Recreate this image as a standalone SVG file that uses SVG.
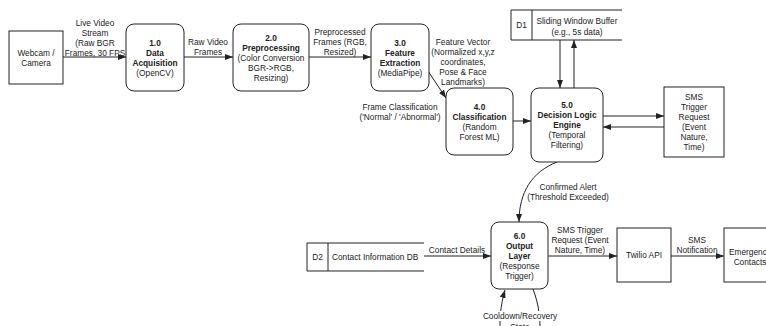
<svg xmlns="http://www.w3.org/2000/svg" width="766" height="326" viewBox="0 0 766 326">
<style>
.t{font-family:"Liberation Sans",Arial,sans-serif;font-size:8.3px;fill:#222;text-anchor:middle}
.s{text-anchor:start}
.b{font-weight:bold}
.box{fill:#fff;stroke:#222;stroke-width:1}
.ln{fill:none;stroke:#222;stroke-width:1}
.ar{fill:none;stroke:#222;stroke-width:1;marker-end:url(#ah)}
</style>
<defs>
<marker id="ah" markerWidth="8" markerHeight="6" refX="8" refY="3" orient="auto" markerUnits="userSpaceOnUse">
<path d="M0,0 L8,3 L0,6 z" fill="#222"/>
</marker>
</defs>
<rect width="766" height="326" fill="#fff"/>
<g id="connectors">
<line class="ar" x1="63" y1="57" x2="126" y2="57"/>
<line class="ar" x1="184" y1="57" x2="233" y2="57"/>
<line class="ar" x1="309" y1="57" x2="371" y2="57"/>
<line class="ar" x1="422" y1="62" x2="446" y2="98"/>
<line class="ar" x1="513" y1="121" x2="531" y2="121"/>
<line class="ar" x1="560" y1="40" x2="560" y2="88"/>
<line class="ar" x1="574" y1="88" x2="574" y2="40"/>
<line class="ar" x1="603" y1="116" x2="664" y2="116"/>
<line class="ar" x1="664" y1="127" x2="603" y2="127"/>
<path class="ar" d="M557 162 C532 172 519 192 519 222"/>
<line class="ar" x1="424" y1="256" x2="491" y2="256"/>
<line class="ar" x1="548" y1="256" x2="617" y2="256"/>
<line class="ar" x1="671" y1="256" x2="724" y2="256"/>
<path class="ar" d="M533 289 C545 320 542 360 520 360 C498 360 496 320 505 290"/>
</g>
<g id="labels">
<text class="t" x="95" y="26">Live Video</text>
<text class="t" x="95" y="36">Stream</text>
<text class="t" x="95" y="46">(Raw BGR</text>
<text class="t" x="95" y="56">Frames, 30 FPS</text>
<text class="t" x="208" y="45">Raw Video</text>
<text class="t" x="208" y="55">Frames</text>
<text class="t" x="340" y="35">Preprocessed</text>
<text class="t" x="340" y="45">Frames (RGB,</text>
<text class="t" x="340" y="55">Resized)</text>
<text class="t" x="463" y="45">Feature Vector</text>
<text class="t" x="463" y="55">(Normalized x,y,z</text>
<text class="t" x="463" y="65">coordinates,</text>
<text class="t" x="463" y="75">Pose &amp; Face</text>
<text class="t" x="463" y="85">Landmarks)</text>
<text class="t" x="400" y="110">Frame Classification</text>
<text class="t" x="400" y="120">('Normal' / 'Abnormal')</text>
<text class="t" x="568" y="190">Confirmed Alert</text>
<text class="t" x="568" y="200">(Threshold Exceeded)</text>
<text class="t" x="457" y="253">Contact Details</text>
<text class="t" x="580" y="233">SMS Trigger</text>
<text class="t" x="580" y="243">Request (Event</text>
<text class="t" x="580" y="253">Nature, Time)</text>
<text class="t" x="697" y="243">SMS</text>
<text class="t" x="697" y="253">Notification</text>
<rect x="482" y="311" width="76" height="10" fill="#fff"/>
<text class="t" x="520" y="319">Cooldown/Recovery</text>
<rect x="508" y="323" width="24" height="5" fill="#fff"/>
<text class="t" x="520" y="330">State</text>
</g>
<g id="webcam">
<rect class="box" x="9" y="31" width="54" height="53"/>
<text class="t" x="36" y="55.5">Webcam /</text>
<text class="t" x="36" y="65.5">Camera</text>
</g>
<g id="p1">
<rect class="box" x="126" y="24" width="58" height="67" rx="8"/>
<text class="t b" x="155" y="46">1.0</text>
<text class="t b" x="155" y="56">Data</text>
<text class="t b" x="155" y="66">Acquisition</text>
<text class="t" x="155" y="76">(OpenCV)</text>
</g>
<g id="p2">
<rect class="box" x="233" y="24" width="76" height="67" rx="8"/>
<text class="t b" x="271" y="41">2.0</text>
<text class="t b" x="271" y="51">Preprocessing</text>
<text class="t" x="271" y="61">(Color Conversion</text>
<text class="t" x="271" y="71">BGR-&gt;RGB,</text>
<text class="t" x="271" y="81">Resizing)</text>
</g>
<g id="p3">
<rect class="box" x="371" y="24" width="58" height="67" rx="8"/>
<text class="t b" x="400" y="46">3.0</text>
<text class="t b" x="400" y="56">Feature</text>
<text class="t b" x="400" y="66">Extraction</text>
<text class="t" x="400" y="76">(MediaPipe)</text>
</g>
<g id="p4">
<rect class="box" x="446" y="88" width="67" height="67" rx="8"/>
<text class="t b" x="479.5" y="109.5">4.0</text>
<text class="t b" x="479.5" y="119.5">Classification</text>
<text class="t" x="479.5" y="129.5">(Random</text>
<text class="t" x="479.5" y="139.5">Forest ML)</text>
</g>
<g id="p5">
<rect class="box" x="531" y="88" width="72" height="74" rx="8"/>
<text class="t b" x="567" y="108">5.0</text>
<text class="t b" x="567" y="118">Decision Logic</text>
<text class="t b" x="567" y="128">Engine</text>
<text class="t" x="567" y="138">(Temporal</text>
<text class="t" x="567" y="148">Filtering)</text>
</g>
<g id="d1">
<path class="ln" d="M622 10 H511 V40 H622 M532 10 V40"/>
<text class="t" x="521.5" y="28">D1</text>
<text class="t" x="577" y="24">Sliding Window Buffer</text>
<text class="t" x="577" y="35">(e.g., 5s data)</text>
</g>
<g id="sms">
<rect class="box" x="664" y="87" width="60" height="70"/>
<text class="t" x="694" y="100">SMS</text>
<text class="t" x="694" y="110">Trigger</text>
<text class="t" x="694" y="120">Request</text>
<text class="t" x="694" y="130">(Event</text>
<text class="t" x="694" y="140">Nature,</text>
<text class="t" x="694" y="150">Time)</text>
</g>
<g id="p6">
<rect class="box" x="491" y="222" width="57" height="67" rx="8"/>
<text class="t b" x="519.5" y="238.5">6.0</text>
<text class="t b" x="519.5" y="248.5">Output</text>
<text class="t b" x="519.5" y="258.5">Layer</text>
<text class="t" x="519.5" y="268.5">(Response</text>
<text class="t" x="519.5" y="278.5">Trigger)</text>
</g>
<g id="d2">
<path class="ln" d="M424 243 H307 V271 H424 M328 243 V271"/>
<text class="t" x="317.5" y="260">D2</text>
<text class="t s" x="332" y="260">Contact Information DB</text>
</g>
<g id="twilio">
<rect class="box" x="617" y="228" width="54" height="54"/>
<text class="t" x="644" y="258">Twilio API</text>
</g>
<g id="emergency">
<rect class="box" x="724" y="228" width="60" height="54"/>
<text class="t" x="750" y="255">Emergency</text>
<text class="t" x="750" y="265">Contacts</text>
</g>
</svg>
